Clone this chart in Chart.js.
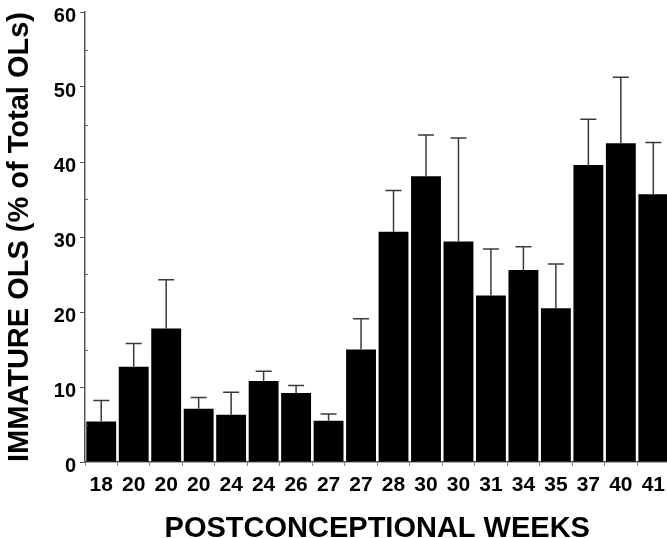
<!DOCTYPE html>
<html>
<head>
<meta charset="utf-8">
<script src="https://cdn.jsdelivr.net/npm/chart.js@4/dist/chart.umd.min.js"></script>
<style>
  html, body { margin: 0; padding: 0; background: #fff; overflow: hidden; }
  #wrap { width: 667px; height: 538px; overflow: hidden; }
</style>
</head>
<body>
<div id="wrap"><canvas id="myChart" width="672" height="538"></canvas></div>
<script>
// postconceptional weeks, one bar per case
const weeks = ['18', '20', '20', '20', '24', '24', '26', '27', '27', '28', '30', '30', '31', '34', '35', '37', '40', '41'];
// immature OLs, % of total
const immature = [5.4, 12.7, 17.8, 7.1, 6.3, 10.8, 9.2, 5.5, 15.0, 30.7, 38.1, 29.4, 22.2, 25.6, 20.5, 39.6, 42.5, 35.7];
// upper error (SEM)
const errUp = [2.8, 3.1, 6.5, 1.5, 3.0, 1.3, 1.0, 0.9, 4.1, 5.5, 5.5, 13.8, 6.2, 3.1, 5.9, 6.1, 8.8, 6.9];
const yTicks = [0, 10, 20, 30, 40, 50, 60];
const yMinor = [5, 15, 25, 35, 45, 55];

const FONT = '"Liberation Sans", Arial, Helvetica, sans-serif';

// error bars drawn on top of bars, upward only
const errorBars = {
  id: 'errorBars',
  afterDatasetsDraw(chart) {
    const ctx = chart.ctx;
    const meta = chart.getDatasetMeta(0);
    const y = chart.scales.y;
    ctx.save();
    ctx.strokeStyle = '#3a3a3a';
    ctx.lineWidth = 1.5;
    meta.data.forEach((bar, i) => {
      const top = y.getPixelForValue(immature[i] + errUp[i]);
      ctx.beginPath();
      ctx.moveTo(bar.x, bar.y);
      ctx.lineTo(bar.x, top);
      ctx.moveTo(bar.x - 8, top);
      ctx.lineTo(bar.x + 8, top);
      ctx.stroke();
    });
    ctx.restore();
  }
};

// small minor ticks on the inside of the y axis
const minorTicks = {
  id: 'minorTicks',
  afterDraw(chart) {
    const ctx = chart.ctx;
    const y = chart.scales.y;
    const x0 = chart.chartArea.left;
    ctx.save();
    ctx.strokeStyle = '#666';
    ctx.lineWidth = 1;
    yMinor.forEach(v => {
      const py = Math.round(y.getPixelForValue(v)) + 0.5;
      ctx.beginPath();
      ctx.moveTo(x0, py);
      ctx.lineTo(x0 + 3, py);
      ctx.stroke();
    });
    ctx.restore();
  }
};

new Chart(document.getElementById('myChart').getContext('2d'), {
  type: 'bar',
  data: {
    labels: weeks,
    datasets: [{
      data: immature,
      backgroundColor: '#000',
      borderWidth: 0,
      barPercentage: 0.92,
      categoryPercentage: 1.0
    }]
  },
  options: {
    responsive: false,
    animation: false,
    layout: { padding: { top: 0, right: 0, left: 0, bottom: 0 } },
    plugins: { legend: { display: false }, tooltip: { enabled: false } },
    scales: {
      x: {
        grid: { offset: true, drawOnChartArea: false, tickLength: 4, color: '#888' },
        border: { color: '#555', width: 1.5 },
        ticks: { color: '#000', padding: 7, maxRotation: 0, autoSkip: false, font: { family: FONT, size: 21, weight: 'bold' } },
        title: {
          display: true, text: 'POSTCONCEPTIONAL WEEKS', color: '#000',
          font: { family: FONT, size: 29, weight: 'bold', lineHeight: 0.6 },
          padding: { top: 0, bottom: 0 }
        },
        afterFit(scale) { scale.height = 76; }
      },
      y: {
        min: 0, max: 60,
        afterBuildTicks(scale) { scale.ticks = yTicks.map(v => ({ value: v })); },
        grid: { drawOnChartArea: false, tickLength: 5, color: '#555' },
        border: { color: '#555', width: 1.5 },
        ticks: { color: '#000', padding: 4, labelOffset: 4, font: { family: FONT, size: 20, weight: 'bold', lineHeight: 0.8 } },
        title: {
          display: true, text: 'IMMATURE OLS (% of Total OLs)', color: '#000',
          font: { family: FONT, size: 29, weight: 'bold', lineHeight: 1 },
          padding: { top: 5, bottom: 0 }
        },
        afterFit(scale) { scale.width = 85; }
      }
    }
  },
  plugins: [errorBars, minorTicks]
});
</script>
</body>
</html>
